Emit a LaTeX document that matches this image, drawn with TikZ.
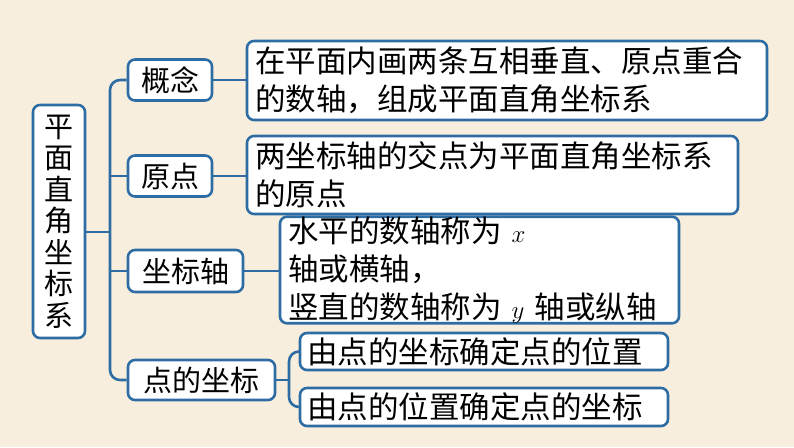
\documentclass[tikz,border=0pt]{standalone}
\usepackage{fontspec}
\setmainfont{Noto Sans CJK SC}
\usepackage{tikz}
\definecolor{bgcolor}{HTML}{F8EEDD}
\definecolor{linecolor}{HTML}{2E6DA4}
\tikzset{
  mapbox/.style={draw=linecolor, line width=2.6pt, fill=white, rounded corners=7pt, inner sep=0pt, font=\fontsize{30.5}{38}\selectfont},
  link/.style={draw=linecolor, line width=2.6pt, rounded corners=10pt}
}
\begin{document}
\begin{tikzpicture}[x=1pt,y=-1pt]
\fill[bgcolor] (0,0) rectangle (794,447);
\useasboundingbox (0,0) rectangle (794,447);
% root
\node[mapbox, minimum width=52pt, minimum height=233pt, align=center, font=\fontsize{29}{31.5}\selectfont] (root) at (59,221.5) {平\\面\\直\\角\\坐\\标\\系};
% second level
\node[mapbox, minimum width=84pt, minimum height=41pt, font=\fontsize{29}{36}\selectfont] (gn) at (170,80) {概念};
\node[mapbox, minimum width=84pt, minimum height=41pt, font=\fontsize{29}{36}\selectfont] (yd) at (170,176) {原点};
\node[mapbox, minimum width=115pt, minimum height=42pt, font=\fontsize{29}{36}\selectfont] (zbz) at (185.5,271) {坐标轴};
\node[mapbox, minimum width=147pt, minimum height=40pt, font=\fontsize{29}{36}\selectfont] (ddzb) at (201.5,380) {点的坐标};
% explanations
\node[mapbox, minimum width=520pt, minimum height=79pt, align=left, text width=504pt] (t1) at (507,80.5) {在平面内画两条互相垂直、原点重合\\的数轴，组成平面直角坐标系};
\node[mapbox, minimum width=491pt, minimum height=78pt, align=left, text width=475pt] (t2) at (492.5,175) {两坐标轴的交点为平面直角坐标系\\的原点};
\node[mapbox, minimum width=399pt, minimum height=76pt, align=left, text width=383pt] (t3) at (479.5,270) {水平的数轴称为 $x$ 轴或横轴，\\竖直的数轴称为 $y$ 轴或纵轴};
\node[mapbox, minimum width=368pt, minimum height=37pt, align=left, text width=354pt] (t4) at (484,351.5) {由点的坐标确定点的位置};
\node[mapbox, minimum width=368pt, minimum height=38pt, align=left, text width=354pt] (t5) at (484,407) {由点的位置确定点的坐标};
% connectors
\coordinate (sp) at (110,232);
\draw[link] (gn.west) -| (sp) |- (ddzb.west);
\draw[link, rounded corners=0pt] (root.east |- sp) -- (sp);
\draw[link, rounded corners=0pt] (yd.west) -- (yd.west -| sp);
\draw[link, rounded corners=0pt] (zbz.west) -- (zbz.west -| sp);
\draw[link] (gn.east) -- (t1.west |- gn.east);
\draw[link] (yd.east) -- (t2.west |- yd.east);
\draw[link] (zbz.east) -- (t3.west |- zbz.east);
\coordinate (sq) at (289,380);
\draw[link] (t4.west) -| (sq) |- (t5.west);
\draw[link, rounded corners=0pt] (ddzb.east) -- (sq);
\end{tikzpicture}
\end{document}
